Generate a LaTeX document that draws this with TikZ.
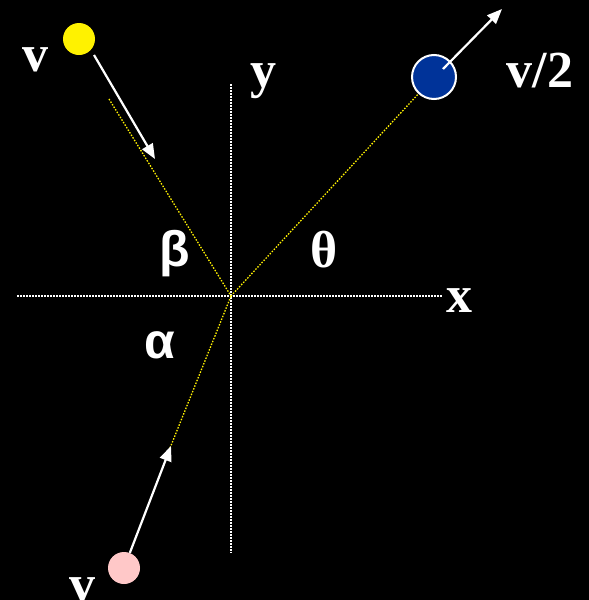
\documentclass[tikz,border=0pt]{standalone}
\usepackage{fontspec}
\setmainfont{Liberation Serif}
\newfontfamily\grk{Liberation Sans}
\usetikzlibrary{arrows.meta}
\definecolor{ballblue}{HTML}{003399}
\definecolor{ballpink}{HTML}{FFC8C8}
\begin{document}
\begin{tikzpicture}[x=1pt,y=-1pt,
  axisline/.style={white,line width=1.5pt,dash pattern=on 1.5pt off 1.5pt},
  pathline/.style={yellow,line width=1.3pt,dash pattern=on 1.5pt off 1.5pt},
  velarrow/.style={white,line width=2.2pt,-{Triangle[length=15pt,width=12pt]}},
  ball/.style={circle,inner sep=0pt},
  lbl/.style={white,anchor=base,inner sep=0pt,font=\fontsize{52}{60}\selectfont\bfseries},
  glbl/.style={white,anchor=base,inner sep=0pt,font=\fontsize{50}{60}\selectfont\grk\bfseries}]
\fill[black] (0,0) rectangle (589,600);
\useasboundingbox (0,0) rectangle (589,600);
% axes
\coordinate (O) at (231,296);
\coordinate (xl) at (17,296);
\coordinate (xr) at (443,296);
\coordinate (yt) at (231,84);
\coordinate (yb) at (231,553);
\draw[axisline] (xl) -- (xr);
\draw[axisline] (yt) -- (yb);
% balls
\node[ball,fill=yellow,minimum size=32pt] (yb1) at (79,39) {};
\node[ball,fill=ballblue,draw=white,line width=2pt,minimum size=44pt] (bb) at (434,77) {};
\node[ball,fill=ballpink,minimum size=32pt] (pb) at (124,568) {};
% path lines
\coordinate (p1) at (109,99);
\coordinate (p2) at (170,448);
\draw[pathline] (p1) -- (O);
\draw[pathline] (O) -- (bb);
\draw[pathline] (p2) -- (O);
% velocity arrows
\coordinate (a1s) at (94,55);
\coordinate (a1e) at (155,159);
\coordinate (a2s) at (443,69);
\coordinate (a2e) at (502,9);
\coordinate (a3e) at (171,446);
\draw[velarrow] (a1s) -- (a1e);
\draw[velarrow] (a2s) -- (a2e);
\draw[velarrow] (pb) -- (a3e);
% labels
\node[lbl] (v1) at (36,71) {v};
\node[lbl] (v2) at (82,601) {v};
\node[lbl] (v3) at (540,87) {v/2};
\node[lbl] (ly) at (263,87) {y};
\node[lbl] (lx) at (459,312) {x};
\node[lbl] (lth) at (324,267) {θ};
\node[glbl] (lbe) at (175,266) {β};
\node[glbl] (lal) at (160,358) {α};
\end{tikzpicture}
\end{document}
